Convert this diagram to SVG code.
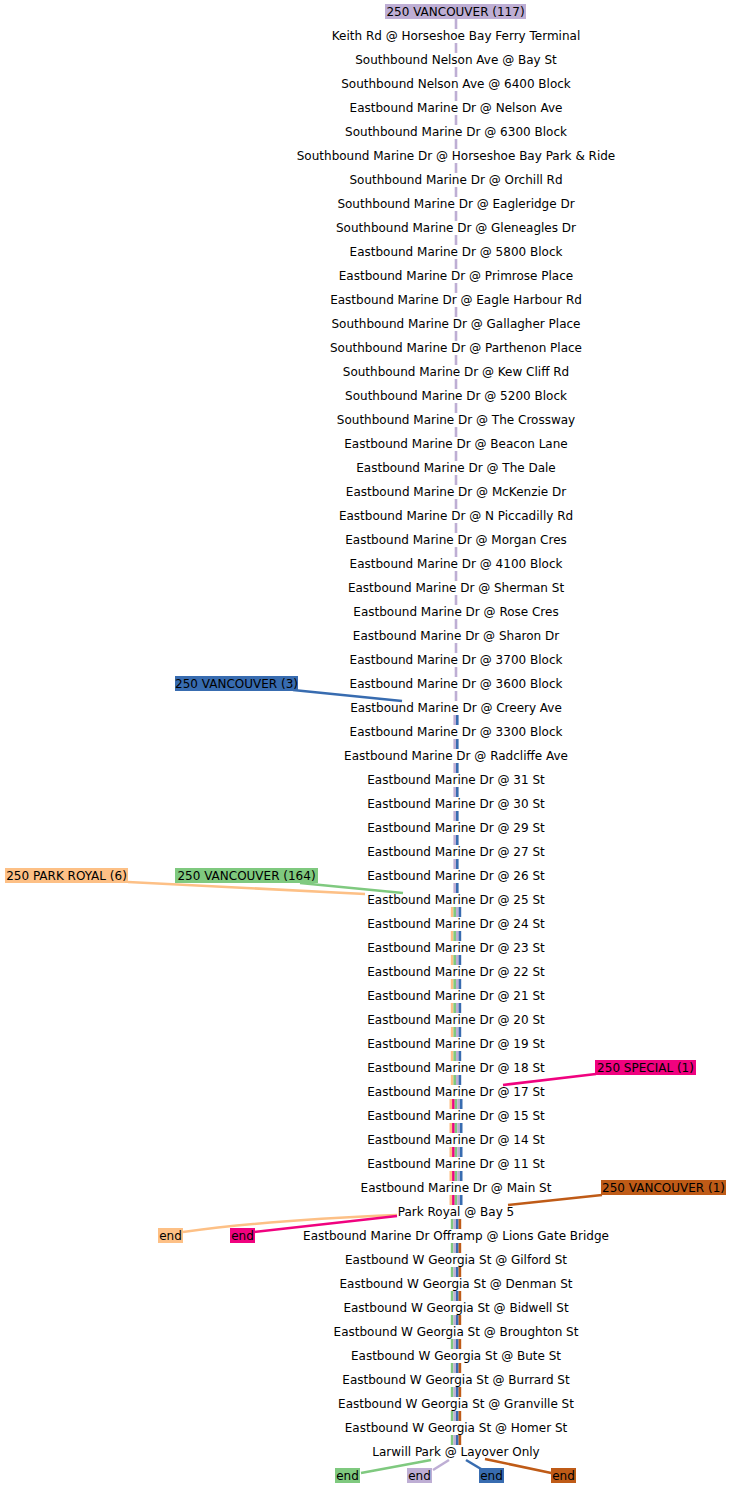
<svg xmlns="http://www.w3.org/2000/svg" width="732" height="1488" viewBox="0 0 732 1488">
<style>
text{font-family:"DejaVu Sans",sans-serif;font-size:12px;fill:#000;text-anchor:middle}
.e{fill:none;stroke-width:2.6;stroke-dasharray:10 14}
.s{fill:none;stroke-width:2.6}
.pu{stroke:#beaed4}.bl{stroke:#386cb0}.gr{stroke:#7fc97f}.or{stroke:#fdc086}.pk{stroke:#f0027f}.br{stroke:#bf5b17}
.fpu{fill:#beaed4}.fbl{fill:#386cb0}.fgr{fill:#7fc97f}.for{fill:#fdc086}.fpk{fill:#f0027f}.fbr{fill:#bf5b17}
</style>
<rect width="732" height="1488" fill="#fff"/>
<g id="connectors">
<line class="e pu" x1="456" y1="19" x2="456" y2="701"/>
<line class="e pu" x1="454.7" y1="715" x2="454.7" y2="893"/>
<line class="e bl" x1="457.3" y1="715" x2="457.3" y2="893"/>
<line class="e or" x1="452.1" y1="907" x2="452.1" y2="1085"/>
<line class="e gr" x1="454.7" y1="907" x2="454.7" y2="1085"/>
<line class="e pu" x1="457.3" y1="907" x2="457.3" y2="1085"/>
<line class="e bl" x1="459.9" y1="907" x2="459.9" y2="1085"/>
<line class="e or" x1="450.8" y1="1099" x2="450.8" y2="1205"/>
<line class="e pk" x1="453.4" y1="1099" x2="453.4" y2="1205"/>
<line class="e gr" x1="456" y1="1099" x2="456" y2="1205"/>
<line class="e pu" x1="458.6" y1="1099" x2="458.6" y2="1205"/>
<line class="e bl" x1="461.2" y1="1099" x2="461.2" y2="1205"/>
<line class="e gr" x1="452.1" y1="1219" x2="452.1" y2="1445"/>
<line class="e pu" x1="454.7" y1="1219" x2="454.7" y2="1445"/>
<line class="e bl" x1="457.3" y1="1219" x2="457.3" y2="1445"/>
<line class="e br" x1="459.9" y1="1219" x2="459.9" y2="1445"/>
<path class="s bl" d="M293 690L402 701"/>
<path class="s gr" d="M300 883L403 893"/>
<path class="s or" d="M128 882L365 894"/>
<path class="s pk" d="M596 1074L503 1085"/>
<path class="s br" d="M602 1195L508 1205"/>
<path class="s or" d="M397 1215Q270 1220 183 1232"/>
<path class="s pk" d="M397 1216L254 1232"/>
<path class="s gr" d="M431 1460L361 1473"/>
<path class="s pu" d="M449 1460L433 1470"/>
<path class="s bl" d="M466 1460L486 1472"/>
<path class="s br" d="M485 1459L556 1474"/>
</g>
<g id="start-117"><rect class="fpu" x="385" y="4" width="141" height="15"/><text x="455.5" y="15.5">250 VANCOUVER (117)</text></g>
<g id="start-3"><rect class="fbl" x="175" y="676" width="123" height="15"/><text x="236.5" y="687.5">250 VANCOUVER (3)</text></g>
<g id="start-park-royal-6"><rect class="for" x="5" y="868" width="123" height="15"/><text x="66.5" y="879.5">250 PARK ROYAL (6)</text></g>
<g id="start-164"><rect class="fgr" x="175" y="868" width="143" height="15"/><text x="246.5" y="879.5">250 VANCOUVER (164)</text></g>
<g id="start-special-1"><rect class="fpk" x="595" y="1060" width="101" height="15"/><text x="645.5" y="1071.5">250 SPECIAL (1)</text></g>
<g id="start-1"><rect class="fbr" x="601" y="1180" width="125" height="15"/><text x="663.5" y="1191.5">250 VANCOUVER (1)</text></g>
<g id="end-orange"><rect class="for" x="158" y="1228" width="25" height="15"/><text x="170.5" y="1239.5">end</text></g>
<g id="end-pink"><rect class="fpk" x="230" y="1228" width="25" height="15"/><text x="242.5" y="1239.5">end</text></g>
<g id="end-green"><rect class="fgr" x="335" y="1468" width="25" height="15"/><text x="347.5" y="1479.5">end</text></g>
<g id="end-purple"><rect class="fpu" x="407" y="1468" width="25" height="15"/><text x="419.5" y="1479.5">end</text></g>
<g id="end-blue"><rect class="fbl" x="479" y="1468" width="25" height="15"/><text x="491.5" y="1479.5">end</text></g>
<g id="end-brown"><rect class="fbr" x="551" y="1468" width="25" height="15"/><text x="563.5" y="1479.5">end</text></g>
<g id="stops">
<g id="s01"><text x="456" y="39.5">Keith Rd @ Horseshoe Bay Ferry Terminal</text></g>
<g id="s02"><text x="456" y="63.5">Southbound Nelson Ave @ Bay St</text></g>
<g id="s03"><text x="456" y="87.5">Southbound Nelson Ave @ 6400 Block</text></g>
<g id="s04"><text x="456" y="111.5">Eastbound Marine Dr @ Nelson Ave</text></g>
<g id="s05"><text x="456" y="135.5">Southbound Marine Dr @ 6300 Block</text></g>
<g id="s06"><text x="456" y="159.5">Southbound Marine Dr @ Horseshoe Bay Park &amp; Ride</text></g>
<g id="s07"><text x="456" y="183.5">Southbound Marine Dr @ Orchill Rd</text></g>
<g id="s08"><text x="456" y="207.5">Southbound Marine Dr @ Eagleridge Dr</text></g>
<g id="s09"><text x="456" y="231.5">Southbound Marine Dr @ Gleneagles Dr</text></g>
<g id="s10"><text x="456" y="255.5">Eastbound Marine Dr @ 5800 Block</text></g>
<g id="s11"><text x="456" y="279.5">Eastbound Marine Dr @ Primrose Place</text></g>
<g id="s12"><text x="456" y="303.5">Eastbound Marine Dr @ Eagle Harbour Rd</text></g>
<g id="s13"><text x="456" y="327.5">Southbound Marine Dr @ Gallagher Place</text></g>
<g id="s14"><text x="456" y="351.5">Southbound Marine Dr @ Parthenon Place</text></g>
<g id="s15"><text x="456" y="375.5">Southbound Marine Dr @ Kew Cliff Rd</text></g>
<g id="s16"><text x="456" y="399.5">Southbound Marine Dr @ 5200 Block</text></g>
<g id="s17"><text x="456" y="423.5">Southbound Marine Dr @ The Crossway</text></g>
<g id="s18"><text x="456" y="447.5">Eastbound Marine Dr @ Beacon Lane</text></g>
<g id="s19"><text x="456" y="471.5">Eastbound Marine Dr @ The Dale</text></g>
<g id="s20"><text x="456" y="495.5">Eastbound Marine Dr @ McKenzie Dr</text></g>
<g id="s21"><text x="456" y="519.5">Eastbound Marine Dr @ N Piccadilly Rd</text></g>
<g id="s22"><text x="456" y="543.5">Eastbound Marine Dr @ Morgan Cres</text></g>
<g id="s23"><text x="456" y="567.5">Eastbound Marine Dr @ 4100 Block</text></g>
<g id="s24"><text x="456" y="591.5">Eastbound Marine Dr @ Sherman St</text></g>
<g id="s25"><text x="456" y="615.5">Eastbound Marine Dr @ Rose Cres</text></g>
<g id="s26"><text x="456" y="639.5">Eastbound Marine Dr @ Sharon Dr</text></g>
<g id="s27"><text x="456" y="663.5">Eastbound Marine Dr @ 3700 Block</text></g>
<g id="s28"><text x="456" y="687.5">Eastbound Marine Dr @ 3600 Block</text></g>
<g id="s29"><text x="456" y="711.5">Eastbound Marine Dr @ Creery Ave</text></g>
<g id="s30"><text x="456" y="735.5">Eastbound Marine Dr @ 3300 Block</text></g>
<g id="s31"><text x="456" y="759.5">Eastbound Marine Dr @ Radcliffe Ave</text></g>
<g id="s32"><text x="456" y="783.5">Eastbound Marine Dr @ 31 St</text></g>
<g id="s33"><text x="456" y="807.5">Eastbound Marine Dr @ 30 St</text></g>
<g id="s34"><text x="456" y="831.5">Eastbound Marine Dr @ 29 St</text></g>
<g id="s35"><text x="456" y="855.5">Eastbound Marine Dr @ 27 St</text></g>
<g id="s36"><text x="456" y="879.5">Eastbound Marine Dr @ 26 St</text></g>
<g id="s37"><text x="456" y="903.5">Eastbound Marine Dr @ 25 St</text></g>
<g id="s38"><text x="456" y="927.5">Eastbound Marine Dr @ 24 St</text></g>
<g id="s39"><text x="456" y="951.5">Eastbound Marine Dr @ 23 St</text></g>
<g id="s40"><text x="456" y="975.5">Eastbound Marine Dr @ 22 St</text></g>
<g id="s41"><text x="456" y="999.5">Eastbound Marine Dr @ 21 St</text></g>
<g id="s42"><text x="456" y="1023.5">Eastbound Marine Dr @ 20 St</text></g>
<g id="s43"><text x="456" y="1047.5">Eastbound Marine Dr @ 19 St</text></g>
<g id="s44"><text x="456" y="1071.5">Eastbound Marine Dr @ 18 St</text></g>
<g id="s45"><text x="456" y="1095.5">Eastbound Marine Dr @ 17 St</text></g>
<g id="s46"><text x="456" y="1119.5">Eastbound Marine Dr @ 15 St</text></g>
<g id="s47"><text x="456" y="1143.5">Eastbound Marine Dr @ 14 St</text></g>
<g id="s48"><text x="456" y="1167.5">Eastbound Marine Dr @ 11 St</text></g>
<g id="s49"><text x="456" y="1191.5">Eastbound Marine Dr @ Main St</text></g>
<g id="s50"><text x="456" y="1215.5">Park Royal @ Bay 5</text></g>
<g id="s51"><text x="456" y="1239.5">Eastbound Marine Dr Offramp @ Lions Gate Bridge</text></g>
<g id="s52"><text x="456" y="1263.5">Eastbound W Georgia St @ Gilford St</text></g>
<g id="s53"><text x="456" y="1287.5">Eastbound W Georgia St @ Denman St</text></g>
<g id="s54"><text x="456" y="1311.5">Eastbound W Georgia St @ Bidwell St</text></g>
<g id="s55"><text x="456" y="1335.5">Eastbound W Georgia St @ Broughton St</text></g>
<g id="s56"><text x="456" y="1359.5">Eastbound W Georgia St @ Bute St</text></g>
<g id="s57"><text x="456" y="1383.5">Eastbound W Georgia St @ Burrard St</text></g>
<g id="s58"><text x="456" y="1407.5">Eastbound W Georgia St @ Granville St</text></g>
<g id="s59"><text x="456" y="1431.5">Eastbound W Georgia St @ Homer St</text></g>
<g id="s60"><text x="456" y="1455.5">Larwill Park @ Layover Only</text></g>
</g>
</svg>
